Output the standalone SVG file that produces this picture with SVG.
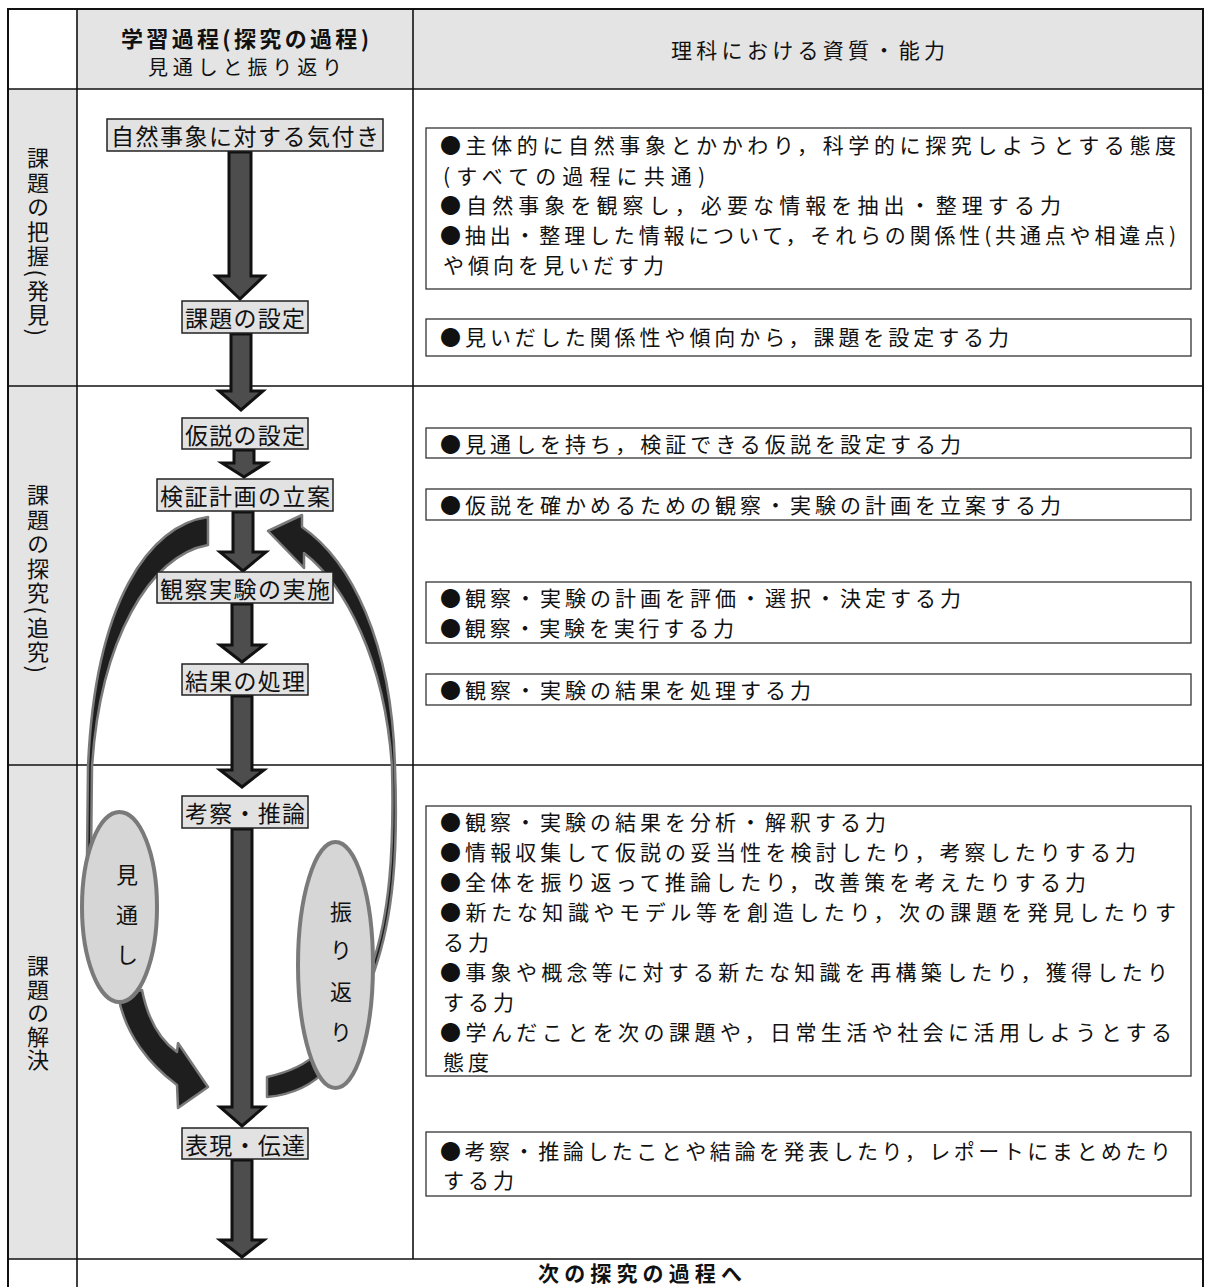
<svg xmlns="http://www.w3.org/2000/svg" width="1205" height="1287" viewBox="0 0 1205 1287">
<style>
text{font-family:"Noto Sans CJK JP","Noto Sans",sans-serif;fill:#111;dominant-baseline:central}
.gray{fill:#e4e4e4}
.grid{stroke:#111;stroke-width:1.6;fill:none}
.node rect{fill:#e2e2e2;stroke:#222;stroke-width:1.5}
.ntext{font-size:23px;text-anchor:middle}
.rbox rect{fill:#fff;stroke:#333;stroke-width:1.3}
.rtext{font-size:21px;letter-spacing:4px}
.flow{fill:#4d4d4d;stroke:#111;stroke-width:3}
.curve{fill:#1e1e1e;stroke:#7a7a7a;stroke-width:2.5;stroke-linejoin:round}
.ell{fill:#d6d6d6;stroke:#7a7a7a;stroke-width:4}
.etext{font-size:22px;text-anchor:middle}
.vlabel{font-size:22px;writing-mode:vertical-rl;letter-spacing:2.5px}
</style>

<g id="table">
<rect class="gray" x="77" y="9" width="1126" height="80"/>
<rect class="gray" x="8" y="89" width="69" height="1170"/>
<rect class="grid" x="8" y="9" width="1195" height="1290" style="stroke-width:2"/>
<line class="grid" x1="77" y1="9" x2="77" y2="1287"/>
<line class="grid" x1="413" y1="9" x2="413" y2="1259"/>
<line class="grid" x1="8" y1="89" x2="1203" y2="89"/>
<line class="grid" x1="8" y1="386" x2="1203" y2="386"/>
<line class="grid" x1="8" y1="765" x2="1203" y2="765"/>
<line class="grid" x1="8" y1="1259" x2="1203" y2="1259"/>
</g>

<g id="headers">
<text x="245" y="37" style="font-size:22px;font-weight:bold;text-anchor:middle" textLength="248" lengthAdjust="spacing">学習過程(探究の過程)</text>
<text x="245" y="66" style="font-size:20px;text-anchor:middle" textLength="194" lengthAdjust="spacing">見通しと振り返り</text>
<text x="808" y="49" style="font-size:21px;text-anchor:middle" textLength="274" lengthAdjust="spacing">理科における資質・能力</text>
<text x="640" y="1272" style="font-size:21px;font-weight:bold;text-anchor:middle" textLength="204" lengthAdjust="spacing">次の探究の過程へ</text>
</g>

<g id="stage-labels">
<text class="vlabel" x="38" y="147">課題の把握(発見)</text>
<text class="vlabel" x="38" y="484">課題の探究(追究)</text>
<text class="vlabel" x="38" y="955" style="letter-spacing:1.5px">課題の解決</text>
</g>

<g id="connectors">
<path class="curve" d="M208 517 C150 525 95 600 88 767 L87 860 L91 860 L92 767 C100 640 150 555 208 545 Z"/>
<path class="curve" d="M268 531 L302 515 L302 527 C350 560 392 640 395 767 C398 850 394 915 374 972 L371 968 C390 915 394 850 392 767 C385 660 345 585 304 553 L304 568 Z"/>
<path class="curve" d="M118 995 C125 1035 150 1065 177 1085 L178 1108 L208 1087 L178 1043 L177 1052 C160 1040 148 1020 142 990 Z"/>
<path class="curve" d="M267 1077 C285 1073 305 1066 318 1052 L328 1068 C312 1086 290 1095 267 1097 Z"/>
<path class="flow" d="M229 152 L251 152 L251 276 L264 276 L240 299 L216 276 L229 276 Z"/>
<path class="flow" d="M231 334 L251 334 L251 391 L263 391 L241 410 L219 391 L231 391 Z"/>
<path class="flow" d="M234 450 L254 450 L254 463 L266 463 L244 477 L222 463 L234 463 Z"/>
<path class="flow" d="M233 512 L253 512 L253 552 L266 552 L243 571 L220 552 L233 552 Z"/>
<path class="flow" d="M232 604 L252 604 L252 645 L264 645 L242 662 L220 645 L232 645 Z"/>
<path class="flow" d="M232 696 L252 696 L252 770 L264 770 L242 787 L220 770 L232 770 Z"/>
<path class="flow" d="M232 829 L252 829 L252 1107 L264 1107 L242 1126 L220 1107 L232 1107 Z"/>
<path class="flow" d="M232 1160 L252 1160 L252 1240 L264 1240 L242 1257 L220 1240 L232 1240 Z"/>
</g>

<g id="ellipse-mitoshi">
<ellipse class="ell" cx="119.5" cy="907" rx="37.5" ry="95"/>
<text class="etext" x="127" y="873">見</text>
<text class="etext" x="127" y="913">通</text>
<text class="etext" x="127" y="953">し</text>
</g>
<g id="ellipse-furikaeri">
<ellipse class="ell" cx="335.5" cy="965" rx="37.5" ry="123"/>
<text class="etext" x="341" y="910">振</text>
<text class="etext" x="341" y="948">り</text>
<text class="etext" x="341" y="990">返</text>
<text class="etext" x="341" y="1030">り</text>
</g>

<g id="n1" class="node"><rect x="107" y="119" width="276" height="32"/><text class="ntext" x="245" y="135" textLength="268" lengthAdjust="spacing">自然事象に対する気付き</text></g>
<g id="n2" class="node"><rect x="182" y="301" width="126" height="32"/><text class="ntext" x="245" y="317" textLength="120" lengthAdjust="spacing">課題の設定</text></g>
<g id="n3" class="node"><rect x="182" y="418" width="126" height="31"/><text class="ntext" x="245" y="433.5" textLength="120" lengthAdjust="spacing">仮説の設定</text></g>
<g id="n4" class="node"><rect x="157" y="479" width="176" height="32"/><text class="ntext" x="245" y="495" textLength="170" lengthAdjust="spacing">検証計画の立案</text></g>
<g id="n5" class="node"><rect x="157" y="572" width="176" height="31"/><text class="ntext" x="245" y="587.5" textLength="170" lengthAdjust="spacing">観察実験の実施</text></g>
<g id="n6" class="node"><rect x="182" y="664" width="126" height="31"/><text class="ntext" x="245" y="679.5" textLength="120" lengthAdjust="spacing">結果の処理</text></g>
<g id="n7" class="node"><rect x="182" y="796" width="126" height="32"/><text class="ntext" x="245" y="812" textLength="120" lengthAdjust="spacing">考察・推論</text></g>
<g id="n8" class="node"><rect x="182" y="1128" width="126" height="31"/><text class="ntext" x="245" y="1143.5" textLength="120" lengthAdjust="spacing">表現・伝達</text></g>

<g id="r1" class="rbox"><rect x="426" y="128" width="765" height="161"/>
<text class="rtext" x="440" y="144" textLength="740" lengthAdjust="spacing">●主体的に自然事象とかかわり，科学的に探究しようとする態度</text>
<text class="rtext" x="443" y="175" textLength="266" lengthAdjust="spacing">(すべての過程に共通)</text>
<text class="rtext" x="440" y="204" textLength="625" lengthAdjust="spacing">●自然事象を観察し，必要な情報を抽出・整理する力</text>
<text class="rtext" x="440" y="234" textLength="740" lengthAdjust="spacing">●抽出・整理した情報について，それらの関係性(共通点や相違点)</text>
<text class="rtext" x="443" y="264">や傾向を見いだす力</text>
</g>
<g id="r2" class="rbox"><rect x="426" y="319" width="765" height="37"/>
<text class="rtext" x="440" y="336" textLength="573" lengthAdjust="spacing">●見いだした関係性や傾向から，課題を設定する力</text>
</g>
<g id="r3" class="rbox"><rect x="426" y="428" width="765" height="30"/>
<text class="rtext" x="440" y="443" textLength="525" lengthAdjust="spacing">●見通しを持ち，検証できる仮説を設定する力</text>
</g>
<g id="r4" class="rbox"><rect x="426" y="489" width="765" height="31"/>
<text class="rtext" x="440" y="504" textLength="625" lengthAdjust="spacing">●仮説を確かめるための観察・実験の計画を立案する力</text>
</g>
<g id="r5" class="rbox"><rect x="426" y="582" width="765" height="61"/>
<text class="rtext" x="440" y="597" textLength="525" lengthAdjust="spacing">●観察・実験の計画を評価・選択・決定する力</text>
<text class="rtext" x="440" y="627" textLength="298" lengthAdjust="spacing">●観察・実験を実行する力</text>
</g>
<g id="r6" class="rbox"><rect x="426" y="674" width="765" height="31"/>
<text class="rtext" x="440" y="689" textLength="375" lengthAdjust="spacing">●観察・実験の結果を処理する力</text>
</g>
<g id="r7" class="rbox"><rect x="426" y="806" width="765" height="270"/>
<text class="rtext" x="440" y="821" textLength="450" lengthAdjust="spacing">●観察・実験の結果を分析・解釈する力</text>
<text class="rtext" x="440" y="851" textLength="700" lengthAdjust="spacing">●情報収集して仮説の妥当性を検討したり，考察したりする力</text>
<text class="rtext" x="440" y="881" textLength="650" lengthAdjust="spacing">●全体を振り返って推論したり，改善策を考えたりする力</text>
<text class="rtext" x="440" y="911" textLength="740" lengthAdjust="spacing">●新たな知識やモデル等を創造したり，次の課題を発見したりす</text>
<text class="rtext" x="443" y="941">る力</text>
<text class="rtext" x="440" y="971" textLength="732" lengthAdjust="spacing">●事象や概念等に対する新たな知識を再構築したり，獲得したり</text>
<text class="rtext" x="443" y="1001">する力</text>
<text class="rtext" x="440" y="1031" textLength="736" lengthAdjust="spacing">●学んだことを次の課題や，日常生活や社会に活用しようとする</text>
<text class="rtext" x="443" y="1061">態度</text>
</g>
<g id="r8" class="rbox"><rect x="426" y="1132" width="765" height="64"/>
<text class="rtext" x="440" y="1150" textLength="735" lengthAdjust="spacing">●考察・推論したことや結論を発表したり，レポートにまとめたり</text>
<text class="rtext" x="443" y="1179">する力</text>
</g>
</svg>
